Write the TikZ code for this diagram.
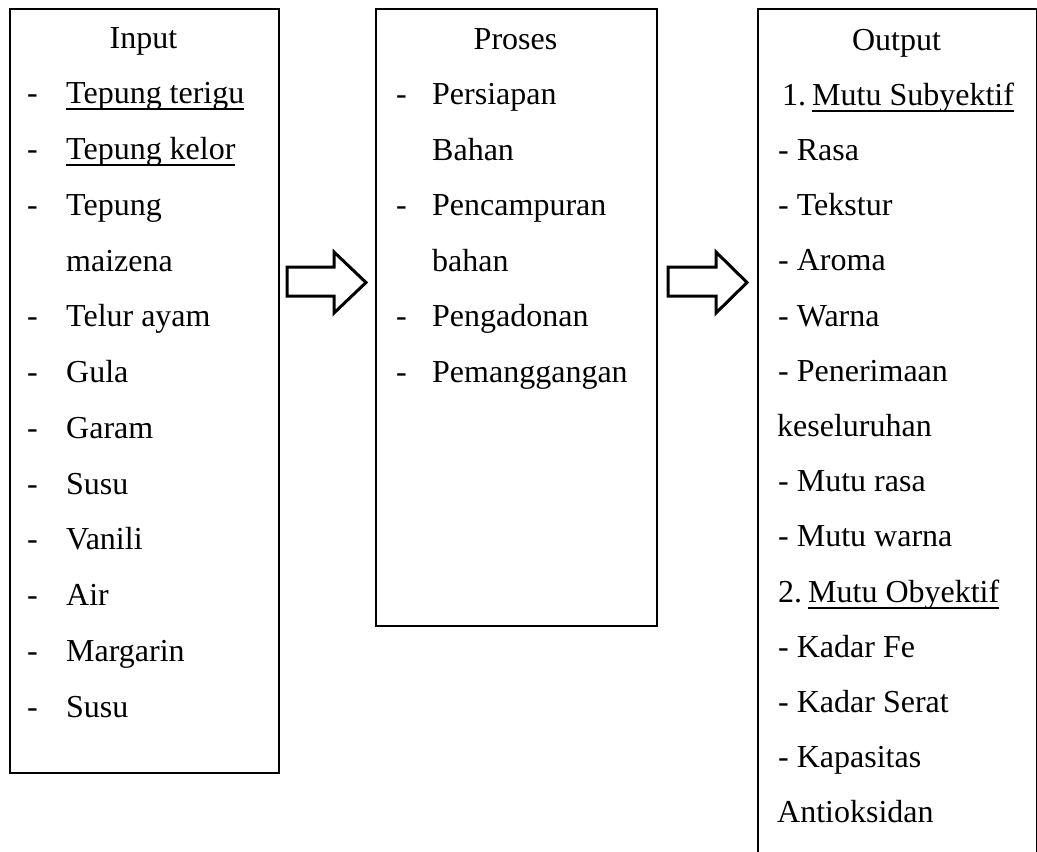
\documentclass[tikz,border=0pt]{standalone}
\usepackage{fontspec}
\setmainfont{Liberation Serif}
\newsavebox\ulbox
\newcommand\myul[1]{\sbox\ulbox{#1}\rlap{\rule[-6.5pt]{\wd\ulbox}{2pt}}\usebox\ulbox}
\tikzset{
  boxframe/.style={draw=black, line width=2pt, inner sep=0pt, anchor=north west},
  txt/.style={inner sep=0pt, anchor=base west, font=\fontsize{32}{38}\selectfont},
  ttl/.style={inner sep=0pt, anchor=base, font=\fontsize{32}{38}\selectfont},
  blockarrow/.style={draw=black, line width=3pt, line join=miter, fill=white}
}
\begin{document}
\begin{tikzpicture}[x=1pt,y=-1pt]
\useasboundingbox (0,0) rectangle (1037,852);
\clip (0,0) rectangle (1037,852);
% boxes
\node[boxframe, minimum width=269pt, minimum height=764pt] (inbox) at (9,8) {};
\node[boxframe, minimum width=281pt, minimum height=617pt] (probox) at (375,8) {};
\node[boxframe, minimum width=279pt, minimum height=880pt] (outbox) at (757,8) {};
% Input
\node[ttl] (inT) at (143.5,48) {Input};
\foreach \i/\d/\t in {1/-/\myul{Tepung terigu},2/-/\myul{Tepung kelor},3/-/Tepung,4//maizena,5/-/Telur ayam,6/-/Gula,7/-/Garam,8/-/Susu,9/-/Vanili,10/-/Air,11/-/Margarin,12/-/Susu}{
  \node[txt] (ind\i) at (27,48+55.75*\i) {\d};
  \node[txt] (int\i) at (66,48+55.75*\i) {\t};
}
% Proses
\node[ttl] (proT) at (515.5,49) {Proses};
\foreach \i/\d/\t in {1/-/Persiapan,2//Bahan,3/-/Pencampuran,4//bahan,5/-/Pengadonan,6/-/Pemanggangan}{
  \node[txt] (prod\i) at (396,49+55.5*\i) {\d};
  \node[txt] (prot\i) at (432,49+55.5*\i) {\t};
}
% Output
\node[ttl] (outT) at (896.5,50) {Output};
\foreach \i/\t/\x in {1/{1.\hspace{6pt}\myul{Mutu Subyektif}}/782,2/- Rasa/778,3/- Tekstur/778,4/- Aroma/778,5/- Warna/778,6/- Penerimaan/778,7/keseluruhan/777,8/- Mutu rasa/778,9/- Mutu warna/778,10/{2.\hspace{6pt}\myul{Mutu Obyektif}}/778,11/- Kadar Fe/778,12/- Kadar Serat/778,13/- Kapasitas/778,14/Antioksidan/777}{
  \node[txt] (outt\i) at (\x,50+55.2*\i) {\t};
}
% block arrows
\draw[blockarrow] (287,267) -- (334,267) -- (334,252) -- (366,282.5) -- (334,313) -- (334,296) -- (287,296) -- cycle;
\draw[blockarrow] (668,267) -- (716,267) -- (716,252) -- (747,282.5) -- (716,313) -- (716,296) -- (668,296) -- cycle;
\end{tikzpicture}
\end{document}
